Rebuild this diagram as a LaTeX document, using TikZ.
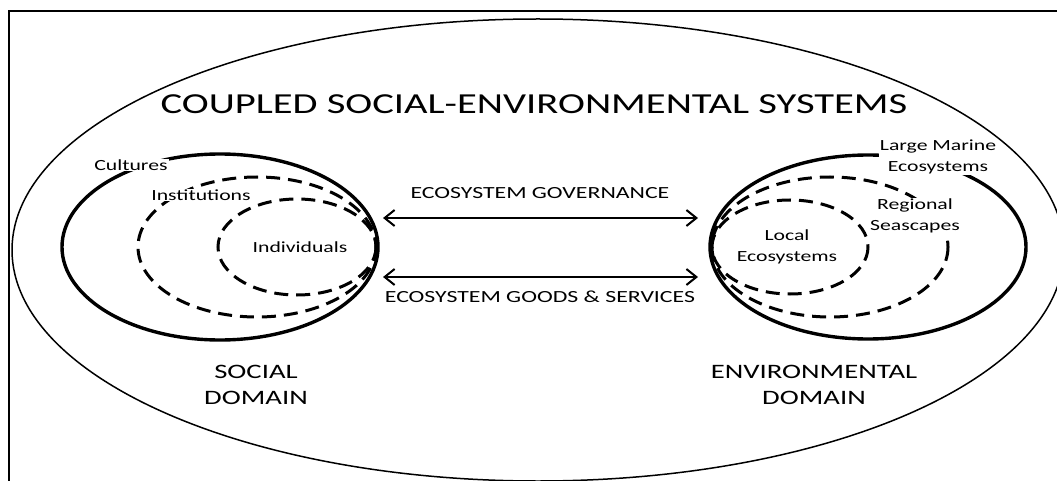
\documentclass[tikz,border=0pt]{standalone}
\usepackage{fontspec}
\setmainfont{Carlito}[FakeStretch=1.4]
\usetikzlibrary{arrows.meta}

\tikzset{
  solidring/.style={black, line width=3.4pt},
  dashring/.style={black, line width=3pt, dash pattern=on 14pt off 8pt},
  lbl/.style={fill=white, inner sep=1pt, align=center, font=\fontsize{15.5}{21}\selectfont},
  flow/.style={black, line width=2pt, {Straight Barb[length=10pt,width=16pt]}-{Straight Barb[length=10pt,width=16pt]}}
}

\begin{document}
\begin{tikzpicture}[x=1pt, y=-1pt]
\useasboundingbox (0,0) rectangle (1057,481);

% frame and outer system
\draw[black, line width=2pt] (9,481) -- (9,11) -- (1057,11);
\draw[black, line width=1.5pt] (538,250) ellipse [x radius=526, y radius=231];
\node (title) at (534,104) {\fontsize{29}{34}\selectfont COUPLED SOCIAL-ENVIRONMENTAL SYSTEMS};

% social domain
\draw[solidring] (220,247) ellipse [x radius=158, y radius=93];
\draw[dashring] (257,247) ellipse [x radius=119, y radius=70];
\draw[dashring] (297,247) ellipse [x radius=79, y radius=48];
\node[lbl] (cultures) at (131,165) {Cultures};
\node[lbl] (institutions) at (201,195) {Institutions};
\node[lbl] (individuals) at (300,247) {Individuals};
\node[align=center, font=\fontsize{20.5}{26}\selectfont] (social) at (256,385) {SOCIAL\\DOMAIN};

% environmental domain
\draw[solidring] (868,247) ellipse [x radius=158, y radius=92];
\draw[dashring] (830,247) ellipse [x radius=118, y radius=70];
\draw[dashring] (790,247) ellipse [x radius=78, y radius=47];
\node[lbl] (lme) at (938,157) {Large Marine\\Ecosystems};
\node[lbl] (regional) at (915,216) {Regional\\Seascapes};
\node[lbl] (local) at (787,247) {Local\\Ecosystems};
\node[align=center, font=\fontsize{20.5}{26}\selectfont] (environ) at (814,385) {ENVIRONMENTAL\\DOMAIN};

% links between the domains
\coordinate (govL) at (383,218);
\coordinate (govR) at (698,218);
\coordinate (goodsL) at (383,277);
\coordinate (goodsR) at (698,277);
\draw[flow] (govL) -- (govR);
\draw[flow] (goodsL) -- (goodsR);
\node[font=\fontsize{17}{20}\selectfont] (govtext) at (540,193) {ECOSYSTEM GOVERNANCE};
\node[font=\fontsize{17}{20}\selectfont] (goodstext) at (540,297) {ECOSYSTEM GOODS \& SERVICES};
\end{tikzpicture}
\end{document}
